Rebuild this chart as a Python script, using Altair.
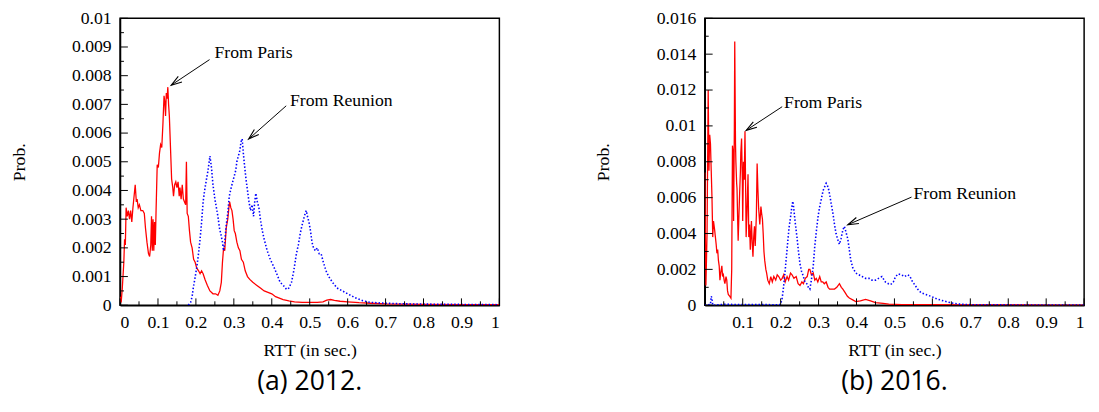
import altair as alt
import pandas as pd

# ---------------- 2012 ----------------
red12_x = [0.000, 0.003, 0.006, 0.010, 0.012, 0.014, 0.016, 0.019, 0.022, 0.025, 0.028, 0.031, 0.034, 0.037,
           0.040, 0.043, 0.045, 0.048, 0.051, 0.055, 0.060, 0.064, 0.067, 0.071, 0.075, 0.078, 0.081, 0.083,
           0.085, 0.087, 0.089, 0.091, 0.093, 0.095, 0.098, 0.101, 0.104, 0.107, 0.110, 0.113, 0.116, 0.118,
           0.120, 0.122, 0.124, 0.126, 0.128, 0.130, 0.133, 0.136, 0.139, 0.141, 0.144, 0.147, 0.150, 0.153,
           0.156, 0.158, 0.161, 0.164, 0.167, 0.170, 0.173, 0.175, 0.177, 0.180, 0.183, 0.186, 0.190, 0.194,
           0.198, 0.202, 0.207, 0.211, 0.215, 0.219, 0.224, 0.230, 0.237, 0.245, 0.252, 0.258, 0.263, 0.267,
           0.270, 0.273, 0.276, 0.280, 0.284, 0.287, 0.289, 0.292, 0.295, 0.298, 0.301, 0.304, 0.308, 0.312,
           0.316, 0.320, 0.325, 0.330, 0.336, 0.342, 0.350, 0.360, 0.370, 0.380, 0.390, 0.400, 0.410, 0.420,
           0.430, 0.445, 0.460, 0.480, 0.500, 0.520, 0.535, 0.545, 0.555, 0.565, 0.580, 0.600, 0.630, 0.660,
           0.700, 0.750, 0.800, 0.900, 1.000]
red12_y = [0.0003, 0.0001, 0.0006, 0.0015, 0.0023, 0.0021, 0.0034, 0.0031, 0.0033, 0.0030, 0.0033, 0.0029, 0.0034, 0.0038,
           0.0042, 0.0036, 0.0037, 0.0034, 0.0035, 0.0033, 0.0033, 0.0032, 0.0027, 0.0022, 0.0018, 0.0017, 0.0021, 0.0031,
           0.0019, 0.0030, 0.0019, 0.0029, 0.0021, 0.0033, 0.0049, 0.0048, 0.0053, 0.0056, 0.0055, 0.0063, 0.0073, 0.0071,
           0.0066, 0.0074, 0.0072, 0.0076, 0.0070, 0.0066, 0.0055, 0.0044, 0.0041, 0.0038, 0.0042, 0.0043, 0.0041, 0.0043,
           0.0038, 0.0041, 0.0037, 0.0042, 0.0037, 0.0036, 0.0035, 0.0050, 0.0032, 0.0031, 0.0026, 0.0022, 0.0020, 0.0016,
           0.0015, 0.0013, 0.0012, 0.0011, 0.0012, 0.0011, 0.0009, 0.0007, 0.0005, 0.0004, 0.0004, 0.00035, 0.0005, 0.0008,
           0.0015, 0.0020, 0.0019, 0.0027, 0.0030, 0.0034, 0.0036, 0.0034, 0.0033, 0.0030, 0.0026, 0.0025, 0.0022, 0.0020,
           0.0019, 0.0016, 0.0015, 0.0012, 0.0010, 0.0009, 0.0008, 0.0007, 0.0006, 0.0005, 0.00045, 0.0004, 0.0003, 0.00025,
           0.0002, 0.00015, 0.00012, 0.0001, 0.0001, 0.0001, 0.00012, 0.00018, 0.0002, 0.00017, 0.00014, 0.00012, 0.00009, 0.00007,
           0.00005, 0.00004, 0.00003, 0.00002, 0.00002]

blue12_x = [0.180, 0.186, 0.190, 0.193, 0.197, 0.202, 0.206, 0.211, 0.215, 0.219, 0.223, 0.228, 0.232, 0.235,
            0.237, 0.239, 0.241, 0.245, 0.250, 0.254, 0.258, 0.262, 0.267, 0.270, 0.273, 0.276, 0.280, 0.284,
            0.288, 0.293, 0.297, 0.301, 0.305, 0.308, 0.312, 0.316, 0.319, 0.322, 0.325, 0.328, 0.332, 0.336,
            0.340, 0.344, 0.348, 0.352, 0.355, 0.358, 0.362, 0.366, 0.370, 0.375, 0.380, 0.388, 0.396, 0.405,
            0.413, 0.422, 0.430, 0.439, 0.445, 0.452, 0.458, 0.465, 0.470, 0.475, 0.480, 0.484, 0.488, 0.491,
            0.494, 0.498, 0.502, 0.506, 0.510, 0.515, 0.520, 0.525, 0.530, 0.536, 0.543, 0.550, 0.560, 0.572,
            0.586, 0.600, 0.620, 0.640, 0.660, 0.700, 0.750, 0.800, 0.900, 1.000]
blue12_y = [0.0, 0.0001, 0.0003, 0.0006, 0.0009, 0.0013, 0.0017, 0.0023, 0.0029, 0.0036, 0.0040, 0.0044, 0.0047, 0.0050,
            0.0052, 0.0050, 0.0048, 0.0042, 0.0037, 0.0034, 0.0031, 0.0027, 0.0024, 0.0022, 0.0019, 0.0022, 0.0028, 0.0032,
            0.0038, 0.0041, 0.0043, 0.0045, 0.0047, 0.0050, 0.0052, 0.0054, 0.0057, 0.0058, 0.0053, 0.0049, 0.0044, 0.0040,
            0.0036, 0.0033, 0.0035, 0.0031, 0.0036, 0.0039, 0.0036, 0.0034, 0.0030, 0.0026, 0.0023, 0.0019, 0.0016, 0.00135,
            0.0011, 0.0008, 0.0007, 0.00055, 0.0006, 0.0008, 0.0012, 0.0018, 0.0021, 0.0025, 0.0028, 0.0030, 0.0032, 0.0033,
            0.0031, 0.0029, 0.0026, 0.0022, 0.0020, 0.0019, 0.0020, 0.0018, 0.0018, 0.0015, 0.0012, 0.0010, 0.0008, 0.0006,
            0.0005, 0.0004, 0.00026, 0.00016, 0.0001, 0.00007, 0.00005, 0.00004, 0.00003, 0.00002]

# ---------------- 2016 ----------------
red16_x = [0.000, 0.003, 0.006, 0.009, 0.011, 0.013, 0.015, 0.017, 0.019, 0.021, 0.023, 0.026, 0.028, 0.030,
           0.032, 0.034, 0.036, 0.038, 0.040, 0.042, 0.045, 0.047, 0.049, 0.051, 0.053, 0.056, 0.058, 0.060,
           0.062, 0.066, 0.069, 0.071, 0.073, 0.075, 0.076, 0.078, 0.079, 0.081, 0.082, 0.084, 0.085, 0.087,
           0.088, 0.090, 0.092, 0.094, 0.095, 0.097, 0.099, 0.100, 0.102, 0.104, 0.106, 0.108, 0.109, 0.111,
           0.114, 0.116, 0.118, 0.120, 0.123, 0.125, 0.127, 0.129, 0.131, 0.133, 0.136, 0.138, 0.140, 0.142,
           0.145, 0.148, 0.150, 0.152, 0.154, 0.156, 0.158, 0.161, 0.163, 0.166, 0.170, 0.174, 0.178, 0.182,
           0.187, 0.191, 0.195, 0.200, 0.204, 0.208, 0.212, 0.217, 0.221, 0.226, 0.230, 0.235, 0.241, 0.246,
           0.251, 0.256, 0.260, 0.265, 0.270, 0.274, 0.277, 0.281, 0.286, 0.290, 0.294, 0.298, 0.303, 0.307,
           0.311, 0.315, 0.320, 0.325, 0.329, 0.335, 0.342, 0.348, 0.355, 0.360, 0.364, 0.370, 0.376, 0.381,
           0.390, 0.398, 0.410, 0.424, 0.437, 0.450, 0.470, 0.485, 0.520, 0.600, 0.700, 0.800, 0.900, 1.000]
red16_y = [0.0074, 0.0011, 0.0040, 0.0120, 0.0075, 0.0095, 0.0090, 0.0075, 0.0060, 0.0038, 0.0047, 0.0042, 0.0038, 0.0034,
           0.0029, 0.0031, 0.0025, 0.0022, 0.0014, 0.0018, 0.0022, 0.0016, 0.0017, 0.0014, 0.0012, 0.0016, 0.0014, 0.0008,
           0.0006, 0.0005, 0.0004, 0.0020, 0.0089, 0.0085, 0.0047, 0.0100, 0.0147, 0.0090, 0.0080, 0.0068, 0.0065, 0.0045,
           0.0036, 0.0050, 0.0063, 0.0075, 0.0085, 0.0093, 0.0070, 0.0047, 0.0080, 0.0070, 0.0097, 0.0060, 0.0038, 0.0050,
           0.0073, 0.0038, 0.0045, 0.0031, 0.0047, 0.0035, 0.0027, 0.0038, 0.0044, 0.0033, 0.0050, 0.0079, 0.0065, 0.0054,
           0.0045, 0.0055, 0.0051, 0.0048, 0.0040, 0.0030, 0.0025, 0.0020, 0.0018, 0.0014, 0.0012, 0.0016, 0.0013, 0.0016,
           0.0014, 0.0017, 0.0016, 0.0014, 0.0015, 0.0017, 0.0013, 0.0016, 0.0014, 0.0018, 0.0017, 0.0015, 0.0016, 0.0012,
           0.0011, 0.0013, 0.0012, 0.0015, 0.0016, 0.0020, 0.0020, 0.0017, 0.0018, 0.0014, 0.0015, 0.0013, 0.0016, 0.0013,
           0.0013, 0.0012, 0.0013, 0.0010, 0.0009, 0.0009, 0.0009, 0.0010, 0.0012, 0.0010, 0.0009, 0.0007, 0.0005, 0.0004,
           0.0003, 0.0002, 0.00025, 0.00033, 0.00025, 0.00015, 0.0001, 0.00006, 0.00004, 0.00003, 0.00002, 0.00002, 0.00001, 0.00001]

blue16_x = [0.000, 0.015, 0.017, 0.019, 0.021, 0.050, 0.195, 0.200, 0.204, 0.207, 0.210, 0.213, 0.216, 0.219,
            0.222, 0.226, 0.229, 0.232, 0.234, 0.236, 0.239, 0.243, 0.247, 0.251, 0.255, 0.260, 0.264, 0.269,
            0.273, 0.277, 0.281, 0.286, 0.290, 0.295, 0.299, 0.303, 0.308, 0.312, 0.316, 0.320, 0.323, 0.326,
            0.329, 0.333, 0.338, 0.342, 0.346, 0.350, 0.355, 0.359, 0.364, 0.368, 0.372, 0.377, 0.381, 0.385,
            0.390, 0.398, 0.406, 0.415, 0.424, 0.433, 0.441, 0.450, 0.458, 0.467, 0.476, 0.484, 0.490, 0.497,
            0.503, 0.510, 0.518, 0.527, 0.534, 0.540, 0.548, 0.555, 0.561, 0.570, 0.583, 0.596, 0.612, 0.630,
            0.650, 0.674, 0.700, 0.800, 0.900, 1.000]
blue16_y = [0.0, 0.00005, 0.0005, 0.0004, 0.0, 0.00005, 0.00003, 0.00005, 0.0004, 0.0009, 0.0015, 0.0022, 0.0029, 0.0036,
            0.0043, 0.0049, 0.0054, 0.0058, 0.0055, 0.0051, 0.0045, 0.0038, 0.0030, 0.0023, 0.0019, 0.0016, 0.0013, 0.0012,
            0.0010, 0.0009, 0.0014, 0.0022, 0.0033, 0.0043, 0.0050, 0.0055, 0.0060, 0.0064, 0.0066, 0.0068, 0.0067, 0.0065,
            0.0062, 0.0057, 0.0051, 0.0045, 0.0040, 0.0037, 0.0034, 0.0037, 0.0042, 0.0044, 0.0041, 0.0037, 0.0031, 0.0025,
            0.0021, 0.0018, 0.0017, 0.0016, 0.0015, 0.0015, 0.0014, 0.0014, 0.0015, 0.0016, 0.0013, 0.0012, 0.00115, 0.0013,
            0.0016, 0.00175, 0.0017, 0.0016, 0.0017, 0.00164, 0.0013, 0.0011, 0.0009, 0.0007, 0.0006, 0.0005, 0.00035, 0.00024,
            0.00013, 0.00006, 0.00003, 0.00002, 0.00001, 0.00001]

# ---------------- axes / labels ----------------
x_ticks_12 = [0, 0.1, 0.2, 0.3, 0.4, 0.5, 0.6, 0.7, 0.8, 0.9, 1]
x_ticks_16 = [0.1, 0.2, 0.3, 0.4, 0.5, 0.6, 0.7, 0.8, 0.9, 1]
x_minor = [0.05, 0.15, 0.25, 0.35, 0.45, 0.55, 0.65, 0.75, 0.85, 0.95]
y_ticks_12 = [0, 0.001, 0.002, 0.003, 0.004, 0.005, 0.006, 0.007, 0.008, 0.009, 0.01]
y_minor_12 = [0.0005, 0.0015, 0.0025, 0.0035, 0.0045, 0.0055, 0.0065, 0.0075, 0.0085, 0.0095]
y_ticks_16 = [0, 0.002, 0.004, 0.006, 0.008, 0.01, 0.012, 0.014, 0.016]
y_minor_16 = [0.001, 0.003, 0.005, 0.007, 0.009, 0.011, 0.013, 0.015]

# annotations: text anchor, arrow start, arrow end, arrowhead angle
notes_12_text = ["From Paris", "From Reunion"]
notes_12_tx = [0.249, 0.448]
notes_12_ty = [0.0088, 0.00712]
notes_12_x1 = [0.236, 0.438]
notes_12_y1 = [0.00856, 0.00695]
notes_12_x2 = [0.135, 0.339]
notes_12_y2 = [0.00767, 0.00579]
notes_12_ang = [236, 228]

notes_16_text = ["From Paris", "From Reunion"]
notes_16_tx = [0.209, 0.55]
notes_16_ty = [0.01129, 0.00619]
notes_16_x1 = [0.204, 0.545]
notes_16_y1 = [0.01107, 0.00603]
notes_16_x2 = [0.109, 0.377]
notes_16_y2 = [0.00975, 0.00449]
notes_16_ang = [237, 247]

W, H = 386, 292
SERIF = "Liberation Serif"
ARROW = "M -0.8 2.6 L 0 0 L 0.8 2.6"


def panel(rx, ry, bx, by, ymax, yt, ym, xt, nt, ntx, nty, nx1, ny1, nx2, ny2, nang, caption):
    xs = alt.Scale(domain=[0, 1], nice=False, zero=False)
    ys = alt.Scale(domain=[0, ymax], nice=False, zero=False)
    xaxis = alt.Axis(values=xt, format="~g", title="RTT (in sec.)", ticks=False, grid=False,
                     labelPadding=9, titlePadding=10)
    yaxis = alt.Axis(values=yt, format="~g", title="Prob.", ticks=False, grid=False,
                     labelPadding=9, titlePadding=44)

    def X(f):
        return alt.X(f, type="quantitative", scale=xs, axis=xaxis)

    def Y(f):
        return alt.Y(f, type="quantitative", scale=ys, axis=yaxis)

    red = pd.DataFrame({"x": rx, "y": ry})
    blue = pd.DataFrame({"x": bx, "y": by})
    red_line = alt.Chart(red).mark_line(color="#ff0000", strokeWidth=1.3, clip=True).encode(
        x=X("x"), y=Y("y"))
    blue_line = alt.Chart(blue).mark_line(color="#0000ff", strokeWidth=1.6, strokeDash=[1.5, 2],
                                          clip=True).encode(x=X("x"), y=Y("y"))

    ymaj = alt.Chart(pd.DataFrame({"y": yt})).mark_rule(color="black", strokeWidth=1).encode(
        y=Y("y"), x=alt.value(0), x2=alt.value(8))
    ymin = alt.Chart(pd.DataFrame({"y": ym})).mark_rule(color="black", strokeWidth=1).encode(
        y=Y("y"), x=alt.value(0), x2=alt.value(4))
    xmaj = alt.Chart(pd.DataFrame({"x": xt})).mark_rule(color="black", strokeWidth=1).encode(
        x=X("x"), y=alt.value(H), y2=alt.value(H - 7))
    xmin = alt.Chart(pd.DataFrame({"x": x_minor})).mark_rule(color="black", strokeWidth=1).encode(
        x=X("x"), y=alt.value(H), y2=alt.value(H - 4))

    ann = pd.DataFrame({"t": nt, "tx": ntx, "ty": nty, "x1": nx1, "y1": ny1,
                        "x2": nx2, "y2": ny2, "a": nang})
    txt = alt.Chart(ann).mark_text(align="left", baseline="middle", font=SERIF, fontSize=18,
                                   color="black").encode(x=X("tx"), y=Y("ty"), text="t:N")
    line = alt.Chart(ann).mark_rule(color="black", strokeWidth=1).encode(
        x=X("x1"), y=Y("y1"), x2="x2:Q", y2="y2:Q")
    head = alt.Chart(ann).mark_point(shape=ARROW, filled=False, color="black", size=70,
                                     strokeWidth=1.1, opacity=1).encode(
        x=X("x2"), y=Y("y2"), angle=alt.Angle("a:Q", scale=None))

    return alt.layer(red_line, blue_line, ymaj, ymin, xmaj, xmin, line, head, txt).properties(
        width=W, height=H,
        title=alt.TitleParams(caption, orient="bottom", anchor="middle", font="Open Sans",
                              fontSize=27, fontWeight="normal", color="black", offset=10))


left = panel(red12_x, red12_y, blue12_x, blue12_y, 0.01, y_ticks_12, y_minor_12, x_ticks_12,
             notes_12_text, notes_12_tx, notes_12_ty, notes_12_x1, notes_12_y1, notes_12_x2,
             notes_12_y2, notes_12_ang, "(a) 2012.")
right = panel(red16_x, red16_y, blue16_x, blue16_y, 0.016, y_ticks_16, y_minor_16, x_ticks_16,
              notes_16_text, notes_16_tx, notes_16_ty, notes_16_x1, notes_16_y1, notes_16_x2,
              notes_16_y2, notes_16_ang, "(b) 2016.")

chart = alt.hconcat(left, right, spacing=94).properties(
    padding={"left": 1, "top": -3, "right": 5, "bottom": 5}
).configure_view(
    stroke="black", strokeWidth=1.5
).configure_axis(
    labelFont=SERIF, labelFontSize=18, labelColor="black",
    titleFont=SERIF, titleFontSize=18, titleFontWeight="normal", titleColor="black",
    domainColor="black", domainWidth=1.5
)

chart.save("out.html", embed_options={"renderer": "svg", "actions": False})
